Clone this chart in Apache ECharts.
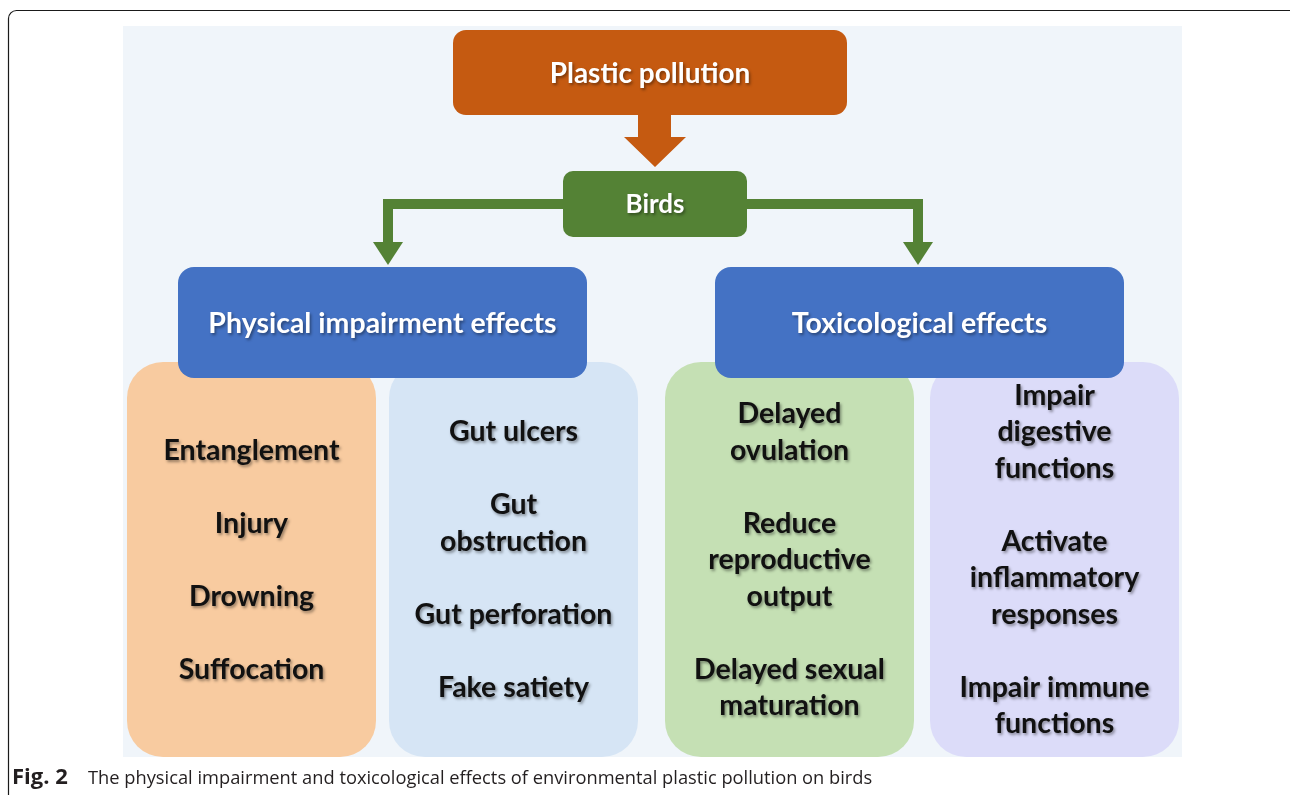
<!DOCTYPE html>
<html>
<head>
<meta charset="utf-8">
<title>Plastic pollution and birds</title>
<script src="https://cdn.jsdelivr.net/npm/echarts@6/dist/echarts.min.js"></script>
<style>
    html, body { margin: 0; padding: 0; background: #fff; }
    #chart { width: 1290px; height: 795px; }
</style>
</head>
<body>
<div id="chart"></div>
<script>
// diagram texts
var sourceLabel = 'Plastic pollution';
var targetLabel = 'Birds';
var groupLabels = ['Physical impairment effects', 'Toxicological effects'];
// one list per column, '\n' = wrap inside an item
var physicalA = ['Entanglement', 'Injury', 'Drowning', 'Suffocation'];
var physicalB = ['Gut ulcers', 'Gut\nobstruction', 'Gut perforation', 'Fake satiety'];
var toxicA = ['Delayed\novulation', 'Reduce\nreproductive\noutput', 'Delayed sexual\nmaturation'];
var toxicB = ['Impair\ndigestive\nfunctions', 'Activate\ninflammatory\nresponses', 'Impair immune\nfunctions'];
var captionBold = 'Fig. 2';
var captionText = 'The physical impairment and toxicological effects of environmental plastic pollution on birds';

var columns = [physicalA, physicalB, toxicA, toxicB];
var columnColors = ['#f8cba0', '#d6e5f5', '#c5e0b4', '#dcdcf9'];
var columnX = [127, 389, 665, 930];
var groupX = [178, 715];

var chart = echarts.init(document.getElementById('chart'));

var font = 'Lato, "Open Sans", sans-serif';
var shadow = {
    textShadowColor: 'rgba(0,0,0,0.4)',
    textShadowBlur: 3,
    textShadowOffsetX: 1.5,
    textShadowOffsetY: 2
};

function boxText(text, x, y, size, color, lh) {
    return {
        type: 'text',
        z: 20,
        style: Object.assign({
            text: text,
            x: x,
            y: y,
            align: 'center',
            verticalAlign: 'middle',
            fill: color,
            font: 'bold ' + size + 'px ' + font,
            lineHeight: lh || size * 1.3
        }, shadow)
    };
}

var elements = [];

// outer frame
elements.push({
    type: 'rect', z: 1,
    shape: {x: 8.5, y: 10.5, width: 1290, height: 800, r: 8},
    style: {fill: '#fff', stroke: '#1a1a1a', lineWidth: 1.2}
});
// light panel
elements.push({
    type: 'rect', z: 2,
    shape: {x: 123, y: 26, width: 1059, height: 731},
    style: {fill: '#f0f5fa'}
});

// columns (drawn under the blue headers)
columns.forEach(function (items, i) {
    elements.push({
        type: 'rect', z: 5,
        shape: {x: columnX[i], y: 362, width: 249, height: 395, r: 36},
        style: {fill: columnColors[i]}
    });
    elements.push(boxText(items.join('\n\n'), columnX[i] + 124.5, 560, 28.5, '#111', 36.5));
});

// blue group headers
groupLabels.forEach(function (label, i) {
    elements.push({
        type: 'rect', z: 10,
        shape: {x: groupX[i], y: 267, width: 409, height: 111, r: 16},
        style: {fill: '#4472c4'}
    });
    elements.push(boxText(label, groupX[i] + 204.5, 324, 28.5, '#fff'));
});

// orange source box + arrow
elements.push({
    type: 'rect', z: 10,
    shape: {x: 453, y: 30, width: 394, height: 85, r: 13},
    style: {fill: '#c55a11'}
});
elements.push(boxText(sourceLabel, 650, 74, 28, '#fff'));
elements.push({
    type: 'polygon', z: 9,
    shape: {points: [[638, 112], [671, 112], [671, 137], [686, 137], [655, 167], [624, 137], [638, 137]]},
    style: {fill: '#c55a11'}
});

// green birds box + elbow arrows
elements.push({
    type: 'rect', z: 10,
    shape: {x: 563, y: 171, width: 184, height: 66, r: 10},
    style: {fill: '#548235'}
});
elements.push(boxText(targetLabel, 655, 205, 26, '#fff'));
[[388, 570], [918, 740]].forEach(function (p) {
    var xEnd = p[0], xStart = p[1];
    elements.push({
        type: 'polyline', z: 9,
        shape: {points: [[xStart, 204], [xEnd, 204], [xEnd, 244]]},
        style: {stroke: '#548235', lineWidth: 10, fill: null, lineJoin: 'miter'}
    });
    elements.push({
        type: 'polygon', z: 9,
        shape: {points: [[xEnd - 15, 242], [xEnd + 15, 242], [xEnd, 265]]},
        style: {fill: '#548235'}
    });
});

// caption
elements.push({
    type: 'text', z: 20,
    style: {
        text: captionBold, x: 12, y: 778, verticalAlign: 'middle',
        font: 'bold 22px "Open Sans", sans-serif', fill: '#231f20'
    }
});
elements.push({
    type: 'text', z: 20,
    style: {
        text: captionText, x: 88, y: 779, verticalAlign: 'middle',
        font: '18.3px "Open Sans", sans-serif', fill: '#231f20'
    }
});

chart.setOption({
    backgroundColor: '#ffffff',
    animation: false,
    graphic: {elements: elements}
});
</script>
</body>
</html>
